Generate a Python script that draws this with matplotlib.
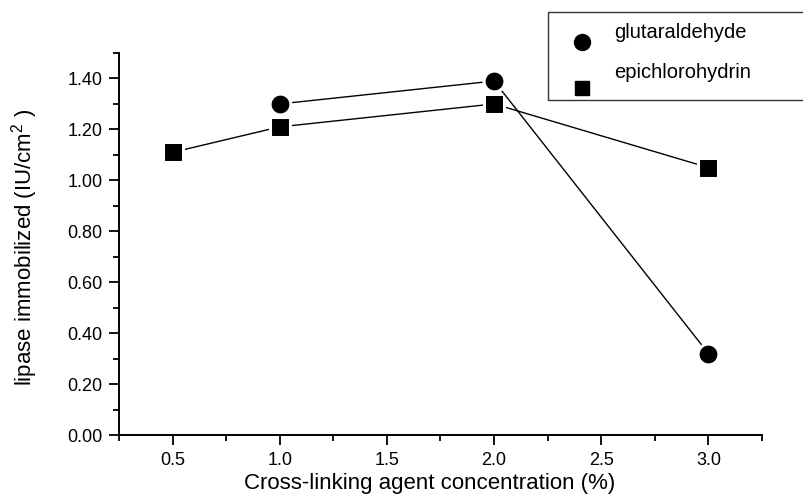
import matplotlib.pyplot as plt
from matplotlib.patches import Rectangle
from matplotlib.ticker import MultipleLocator, FormatStrFormatter

plt.rcParams['font.family'] = ['Liberation Sans', 'DejaVu Sans']
plt.rcParams['mathtext.fontset'] = 'custom'
plt.rcParams['mathtext.rm'] = 'Liberation Sans'

# Data
glut_x = [1.0, 2.0, 3.0]
glut_y = [1.30, 1.39, 0.32]
epi_x = [0.5, 1.0, 2.0, 3.0]
epi_y = [1.11, 1.21, 1.30, 1.05]
series_names = ['glutaraldehyde', 'epichlorohydrin']

W, H = 804, 503
fig = plt.figure(figsize=(W / 100, H / 100), dpi=100)
ax = fig.add_axes([119 / W, 1 - 435 / H, (762 - 119) / W, (435 - 53) / H])

# white marker edges give the small gap between line and marker
ax.plot(epi_x, epi_y, color='black', lw=1.0, marker='s', markersize=14.5,
        markerfacecolor='black', markeredgecolor='white', markeredgewidth=2.2, zorder=3)
ax.plot(glut_x, glut_y, color='black', lw=1.0, marker='o', markersize=15,
        markerfacecolor='black', markeredgecolor='white', markeredgewidth=2.2, zorder=4)

ax.set_xlim(0.25, 3.25)
ax.set_ylim(0, 1.5)
ax.xaxis.set_major_locator(MultipleLocator(0.5))
ax.xaxis.set_minor_locator(MultipleLocator(0.25))
ax.yaxis.set_major_locator(MultipleLocator(0.2))
ax.yaxis.set_minor_locator(MultipleLocator(0.1))
ax.xaxis.set_major_formatter(FormatStrFormatter('%.1f'))
ax.yaxis.set_major_formatter(FormatStrFormatter('%.2f'))

ax.spines['top'].set_visible(False)
ax.spines['right'].set_visible(False)
for s in ['left', 'bottom']:
    ax.spines[s].set_linewidth(1.4)
ax.tick_params(which='major', direction='out', length=7, width=1.3, labelsize=13, pad=5)
ax.tick_params(which='minor', direction='out', length=4.5, width=1.3)

ax.set_xlabel('Cross-linking agent concentration (%)', fontsize=16)
ax.set_ylabel('lipase immobilized (IU/cm$^2$ )', fontsize=16)
ax.xaxis.set_label_coords((430 - 119) / (762 - 119), -(484 - 435) / (435 - 53), transform=ax.transAxes)
ax.yaxis.set_label_coords(-(119 - 25) / (762 - 119), (435 - 247) / (435 - 53))
ax.xaxis.label.set_va('center')
ax.yaxis.label.set_va('center')

# Legend drawn by hand (box runs off the right edge)
box = Rectangle((548 / W, 1 - 100 / H), 300 / W, 88 / H, transform=fig.transFigure,
                facecolor='white', edgecolor='#333333', lw=1.0, clip_on=False)
fig.patches.append(box)
fig.lines.append(plt.Line2D([582 / W], [1 - 42 / H], transform=fig.transFigure,
                            marker='o', markersize=11.5, color='black', linestyle='none'))
fig.lines.append(plt.Line2D([582 / W], [1 - 88 / H], transform=fig.transFigure,
                            marker='s', markersize=10, color='black', linestyle='none'))
fig.text(614 / W, 1 - 32 / H, series_names[0], fontsize=14.5, va='center', ha='left')
fig.text(614 / W, 1 - 72 / H, series_names[1], fontsize=14.5, va='center', ha='left')

plt.savefig('out.png', dpi=100)
